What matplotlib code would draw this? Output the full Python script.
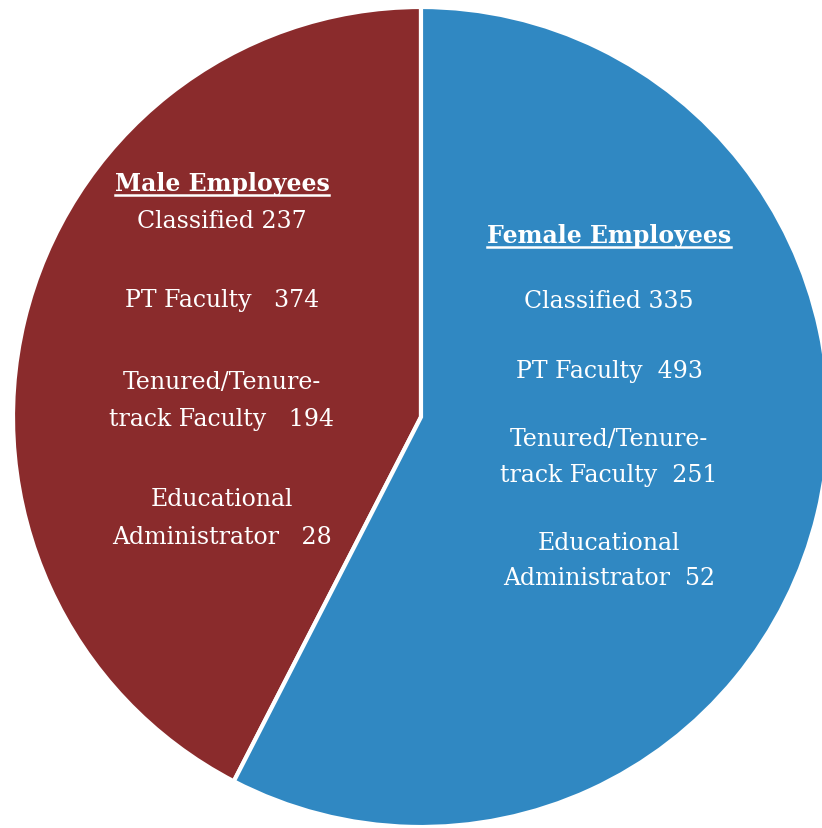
import matplotlib
matplotlib.use("Agg")
import matplotlib.pyplot as plt
from matplotlib.lines import Line2D

# Data
groups = ["Male Employees", "Female Employees"]
categories = ["Classified", "PT Faculty", "Tenured/Tenure-\ntrack Faculty", "Educational\nAdministrator"]
male_counts = [237, 374, 194, 28]
female_counts = [335, 493, 251, 52]
colors = ["#8A2B2C", "#3088C2"]

W, H = 822, 829
fig = plt.figure(figsize=(W / 100, H / 100), dpi=100)
ax = fig.add_axes([0, 0, 1, 1])
ax.set_axis_off()

totals = [sum(male_counts), sum(female_counts)]
ax.pie(totals, colors=colors, startangle=90, counterclock=True, radius=1.0,
       wedgeprops=dict(edgecolor="white", linewidth=3))
ax.set_aspect("auto")
# map circle to pixel extents
cx, cy, rx, ry = 421, 418, 408, 410
ax.set_xlim(-cx / rx, (W - cx) / rx)
ax.set_ylim(-(H - cy) / ry, cy / ry)

FONT = "DejaVu Serif"
FS = 17

def ptxt(x, y, s, bold=False):
    return fig.text(x / W, 1 - y / H, s, ha="center", va="center", color="white",
                    fontsize=FS, family=FONT, fontweight="bold" if bold else "normal")

def build_lines(cats, counts, sep):
    lines = []
    for i, (c, n) in enumerate(zip(cats, counts)):
        parts = c.split("\n")
        parts[-1] = parts[-1] + (" " if i == 0 else sep) + str(n)
        lines.append(parts)
    return lines

male_lines = build_lines(categories, male_counts, "   ")
female_lines = build_lines(categories, female_counts, "  ")

male_x = 222
male_title_y = 184
male_y = [[221], [300], [383, 420], [500, 538]]
female_x = 609
female_title_y = 236
female_y = [[301], [372], [440, 476], [543, 579]]

titles = []
titles.append(ptxt(male_x, male_title_y, groups[0], bold=True))
titles.append(ptxt(female_x, female_title_y, groups[1], bold=True))
for lines, ys, x in [(male_lines, male_y, male_x), (female_lines, female_y, female_x)]:
    for parts, yy in zip(lines, ys):
        for p, y in zip(parts, yy):
            ptxt(x, y, p)

fig.canvas.draw()
r = fig.canvas.get_renderer()
for t in titles:
    bb = t.get_window_extent(r)
    y = bb.y0
    fig.add_artist(Line2D([bb.x0, bb.x1], [y, y], transform=None, color="white", lw=1.8))

fig.savefig("out.png", dpi=100, facecolor="white")
